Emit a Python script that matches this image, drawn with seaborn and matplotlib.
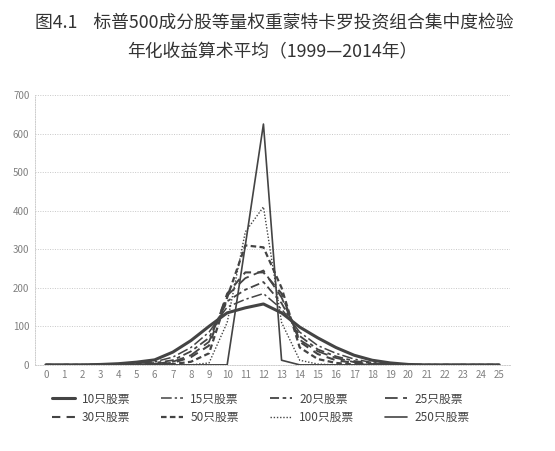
import numpy as np
import pandas as pd
import matplotlib
matplotlib.use("Agg")
import matplotlib.pyplot as plt
import seaborn as sns

# annualized return buckets 0..25
buckets = list(range(26))
labels = ["10只股票", "15只股票", "20只股票", "25只股票",
          "30只股票", "50只股票", "100只股票", "250只股票"]

s10 = [0, 0, 0, 1, 3, 7, 13, 33, 63, 100, 135, 148, 158, 135, 98, 70, 45, 25, 12, 5, 1, 0, 0, 0, 0, 0]
s15 = [0, 0, 0, 0, 2, 4, 8, 20, 45, 85, 150, 170, 185, 145, 85, 50, 30, 15, 6, 2, 0, 0, 0, 0, 0, 0]
s20 = [0, 0, 0, 0, 1, 2, 5, 12, 35, 70, 165, 195, 215, 160, 75, 40, 22, 10, 4, 1, 0, 0, 0, 0, 0, 0]
s25 = [0, 0, 0, 0, 0, 1, 3, 8, 25, 60, 180, 225, 245, 175, 65, 35, 18, 7, 2, 0, 0, 0, 0, 0, 0, 0]
s30 = [0, 0, 0, 0, 0, 1, 2, 5, 20, 50, 185, 240, 240, 185, 60, 28, 12, 5, 1, 0, 0, 0, 0, 0, 0, 0]
s50 = [0, 0, 0, 0, 0, 0, 0, 2, 8, 30, 175, 310, 305, 200, 45, 15, 5, 1, 0, 0, 0, 0, 0, 0, 0, 0]
s100 = [0, 0, 0, 0, 0, 0, 0, 0, 0, 5, 110, 345, 410, 110, 12, 2, 0, 0, 0, 0, 0, 0, 0, 0, 0, 0]
s250 = [0, 0, 0, 0, 0, 0, 0, 0, 0, 0, 0, 310, 625, 12, 0, 0, 0, 0, 0, 0, 0, 0, 0, 0, 0, 0]
series = [s10, s15, s20, s25, s30, s50, s100, s250]

styles = [
    dict(ls="-", lw=2.2),
    dict(ls=(0, (7, 2, 1.5, 2)), lw=1.1),
    dict(ls=(0, (5, 2, 2, 2)), lw=1.3),
    dict(ls=(0, (7, 3)), lw=1.3),
    dict(ls=(0, (4, 3)), lw=1.5),
    dict(ls=(0, (2.5, 1.5)), lw=1.6),
    dict(ls=(0, (1, 1.3)), lw=1.0),
    dict(ls="-", lw=1.2),
]

sns.set_style("white")
plt.rcParams['font.family'] = ['Noto Sans CJK SC', 'DejaVu Sans']

fig = plt.figure(figsize=(5.55, 4.51), dpi=100)
ax = fig.add_axes([0.063, 0.191, 0.856, 0.598])

lines = []
for vals, lab, st in zip(series, labels, styles):
    sns.lineplot(x=buckets, y=vals, ax=ax, color="#444444", label=lab,
                 linestyle=st["ls"], linewidth=st["lw"], legend=False)
    lines.append(ax.lines[-1])

ax.set_xlim(-0.6, 25.6)
ax.set_ylim(0, 700)
ax.set_xticks(buckets)
ax.set_yticks(range(0, 701, 100))
ax.tick_params(axis="both", labelsize=7, colors="#808080", length=0, pad=4)
ax.yaxis.grid(True, color="#c8c8c8", linestyle=(0, (1, 1.5)), linewidth=0.7)
ax.xaxis.grid(False)
for side in ["top", "right"]:
    ax.spines[side].set_visible(False)
for side in ["left", "bottom"]:
    ax.spines[side].set_color("#cccccc")
    ax.spines[side].set_linestyle((0, (1, 1.5)))
    ax.spines[side].set_linewidth(0.7)

fig.text(0.495, 0.949, "图4.1    标普500成分股等量权重蒙特卡罗投资组合集中度检验",
         ha="center", va="center", fontsize=12.8, color="#333333")
fig.text(0.49, 0.885, "年化收益算术平均（1999—2014年）",
         ha="center", va="center", fontsize=12.8, color="#333333")

# row-wise legend order for matplotlib's column fill
order = [0, 4, 1, 5, 2, 6, 3, 7]
fig.legend([lines[i] for i in order], [labels[i] for i in order],
           ncol=4, loc="center", bbox_to_anchor=(0.47, 0.095), frameon=False,
           fontsize=8.5, handlelength=1.9, handletextpad=0.6, columnspacing=2.6,
           labelcolor="#444444", labelspacing=0.45)

fig.savefig("out.png", dpi=100)
